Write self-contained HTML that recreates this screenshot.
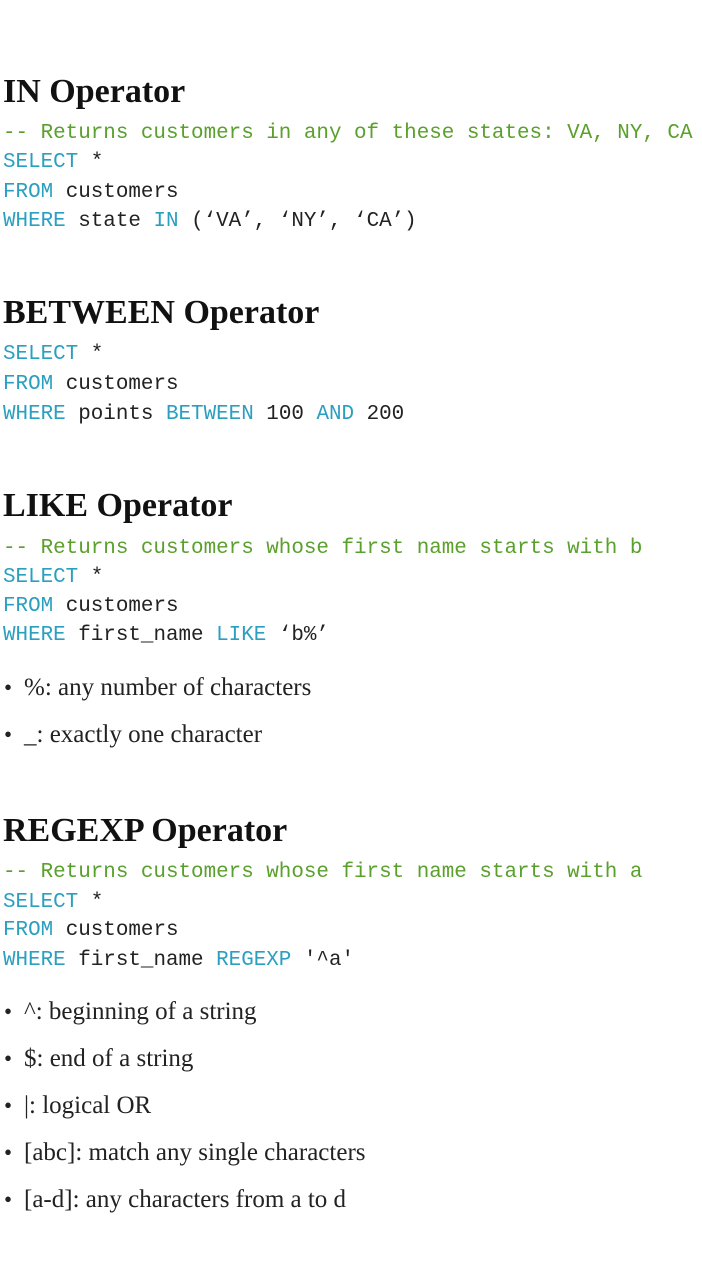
<!DOCTYPE html>
<html><head><meta charset="utf-8"><style>
body{margin:0;width:702px;height:1280px;background:#fff;position:relative;overflow:hidden}
div{position:absolute;left:3px;white-space:pre;line-height:30px;height:30px}
.h{font-family:"Liberation Serif",serif;font-weight:bold;font-size:34px;color:#111;line-height:40px;height:40px}
.c{font-family:"Liberation Mono",monospace;font-size:20.9px;color:#222;margin-top:3px}
.k{color:#2a9fc0}.g{color:#5aa02c}
.b{font-family:"Liberation Serif",serif;font-size:25px;color:#222;left:24px}
.d{font-family:"Liberation Serif",serif;font-size:23px;color:#222;left:4px}
</style></head><body>
<div class="h" style="top:72px">IN Operator</div>
<div class="c g" style="top:116px">-- Returns customers in any of these states: VA, NY, CA</div>
<div class="c" style="top:145px"><span class="k">SELECT</span> *</div>
<div class="c" style="top:175px"><span class="k">FROM</span> customers</div>
<div class="c" style="top:204px"><span class="k">WHERE</span> state <span class="k">IN</span> (‘VA’, ‘NY’, ‘CA’)</div>

<div class="h" style="top:293px">BETWEEN Operator</div>
<div class="c" style="top:337px"><span class="k">SELECT</span> *</div>
<div class="c" style="top:367px"><span class="k">FROM</span> customers</div>
<div class="c" style="top:397px"><span class="k">WHERE</span> points <span class="k">BETWEEN</span> 100 <span class="k">AND</span> 200</div>

<div class="h" style="top:486px">LIKE Operator</div>
<div class="c g" style="top:531px">-- Returns customers whose first name starts with b</div>
<div class="c" style="top:560px"><span class="k">SELECT</span> *</div>
<div class="c" style="top:589px"><span class="k">FROM</span> customers</div>
<div class="c" style="top:618px"><span class="k">WHERE</span> first_name <span class="k">LIKE</span> ‘b%’</div>
<div class="d" style="top:673px">•</div><div class="b" style="top:673px">%: any number of characters</div>
<div class="d" style="top:720px">•</div><div class="b" style="top:720px">_: exactly one character</div>

<div class="h" style="top:811px">REGEXP Operator</div>
<div class="c g" style="top:855px">-- Returns customers whose first name starts with a</div>
<div class="c" style="top:885px"><span class="k">SELECT</span> *</div>
<div class="c" style="top:913px"><span class="k">FROM</span> customers</div>
<div class="c" style="top:943px"><span class="k">WHERE</span> first_name <span class="k">REGEXP</span> '^a'</div>
<div class="d" style="top:997px">•</div><div class="b" style="top:997px">^: beginning of a string</div>
<div class="d" style="top:1044px">•</div><div class="b" style="top:1044px">$: end of a string</div>
<div class="d" style="top:1091px">•</div><div class="b" style="top:1091px">|: logical OR</div>
<div class="d" style="top:1138px">•</div><div class="b" style="top:1138px">[abc]: match any single characters</div>
<div class="d" style="top:1185px">•</div><div class="b" style="top:1185px">[a-d]: any characters from a to d</div>
</body></html>
